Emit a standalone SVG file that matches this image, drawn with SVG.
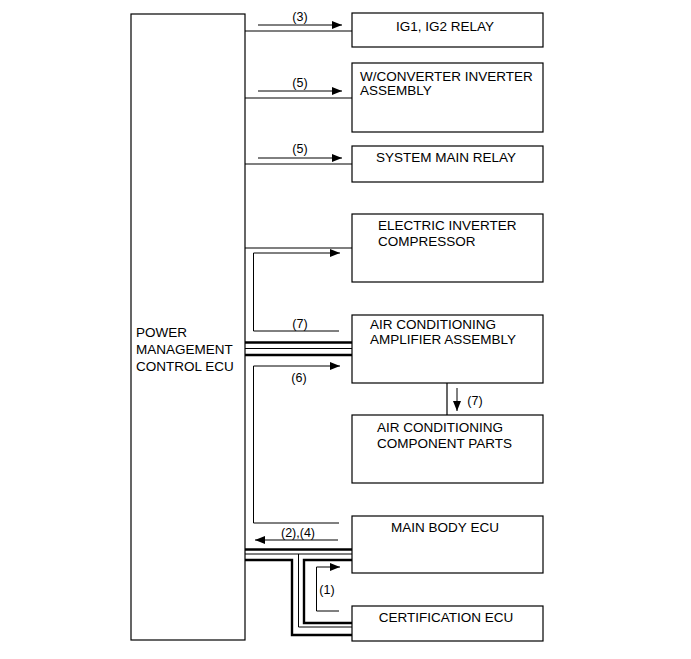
<svg xmlns="http://www.w3.org/2000/svg" width="691" height="659" viewBox="0 0 691 659">
<style>
.box{fill:#fff;stroke:#000;stroke-width:1.2}
.t{font-family:"Liberation Sans",Arial,sans-serif;font-size:13.5px;fill:#000}
.l{font-family:"Liberation Sans",Arial,sans-serif;font-size:12.5px;fill:#000;text-anchor:middle}
.w{fill:none;stroke:#000;stroke-width:1.2}
.th{fill:none;stroke:#000;stroke-width:2.4}
.a{fill:none;stroke:#000;stroke-width:1;marker-end:url(#ah)}
.p{fill:none;stroke:#000;stroke-width:1}
</style>
<defs>
<marker id="ah" markerWidth="10" markerHeight="8" refX="10" refY="4" orient="auto" markerUnits="userSpaceOnUse">
<path d="M0,0 L10,4 L0,8 Z" fill="#000"/>
</marker>
</defs>
<rect width="691" height="659" fill="#fff"/>
<g id="connectors">
<line class="w" x1="245" y1="31" x2="352" y2="31"/>
<line class="w" x1="245" y1="98" x2="352" y2="98"/>
<line class="w" x1="245" y1="164" x2="352" y2="164"/>
<line class="w" x1="245" y1="248" x2="352" y2="248"/>
<line class="th" x1="245" y1="342.5" x2="352" y2="342.5"/>
<line class="p" x1="245" y1="348.5" x2="352" y2="348.5"/>
<line class="th" x1="245" y1="355" x2="352" y2="355"/>
<line class="w" x1="447" y1="383" x2="447" y2="415"/>
<line class="th" x1="245" y1="549.5" x2="352" y2="549.5"/>
<line class="p" x1="245" y1="554" x2="352" y2="554"/>
<path class="p" d="M298.5,554 V627 H352"/>
<path class="th" d="M245,560 H292 V635 H352"/>
<path class="th" d="M352,560 H304 V623 H352"/>
<line class="a" x1="258" y1="25" x2="342" y2="25"/>
<line class="a" x1="258" y1="91" x2="342" y2="91"/>
<line class="a" x1="258" y1="158" x2="342" y2="158"/>
<path class="a" d="M339,331 H253.5 V253 H340"/>
<path class="a" d="M339,523 H253.5 V366 H340"/>
<line class="a" x1="338" y1="540" x2="255" y2="540"/>
<path class="a" d="M339,611 H316.5 V567 H340"/>
<line class="a" x1="457" y1="388" x2="457" y2="411"/>
<text class="l" x="300" y="21">(3)</text>
<text class="l" x="300" y="87">(5)</text>
<text class="l" x="300" y="153">(5)</text>
<text class="l" x="300" y="328">(7)</text>
<text class="l" x="299" y="382">(6)</text>
<text class="l" x="475" y="405">(7)</text>
<text class="l" x="298" y="537">(2),(4)</text>
<text class="l" x="327" y="594">(1)</text>
</g>
<g id="pmc-ecu">
<rect class="box" x="131" y="14" width="114" height="626"/>
<text class="t" x="136" y="337">POWER</text>
<text class="t" x="136" y="354">MANAGEMENT</text>
<text class="t" x="136" y="371">CONTROL ECU</text>
</g>
<g id="ig-relay">
<rect class="box" x="352" y="13" width="191" height="34"/>
<text class="t" x="445" y="31" text-anchor="middle">IG1, IG2 RELAY</text>
</g>
<g id="converter">
<rect class="box" x="352" y="63" width="191" height="69"/>
<text class="t" x="360" y="81">W/CONVERTER INVERTER</text>
<text class="t" x="360" y="95">ASSEMBLY</text>
</g>
<g id="smr">
<rect class="box" x="352" y="146" width="191" height="36"/>
<text class="t" x="446" y="162" text-anchor="middle">SYSTEM MAIN RELAY</text>
</g>
<g id="compressor">
<rect class="box" x="352" y="214" width="191" height="68"/>
<text class="t" x="378" y="230">ELECTRIC INVERTER</text>
<text class="t" x="378" y="246">COMPRESSOR</text>
</g>
<g id="ac-amp">
<rect class="box" x="352" y="315" width="191" height="68"/>
<text class="t" x="370" y="329">AIR CONDITIONING</text>
<text class="t" x="370" y="344">AMPLIFIER ASSEMBLY</text>
</g>
<g id="ac-parts">
<rect class="box" x="352" y="415" width="191" height="68"/>
<text class="t" x="377" y="432">AIR CONDITIONING</text>
<text class="t" x="377" y="448">COMPONENT PARTS</text>
</g>
<g id="main-body">
<rect class="box" x="352" y="516" width="191" height="57"/>
<text class="t" x="445" y="532" text-anchor="middle">MAIN BODY ECU</text>
</g>
<g id="cert-ecu">
<rect class="box" x="352" y="606" width="191" height="35"/>
<text class="t" x="446" y="622" text-anchor="middle">CERTIFICATION ECU</text>
</g>
</svg>
